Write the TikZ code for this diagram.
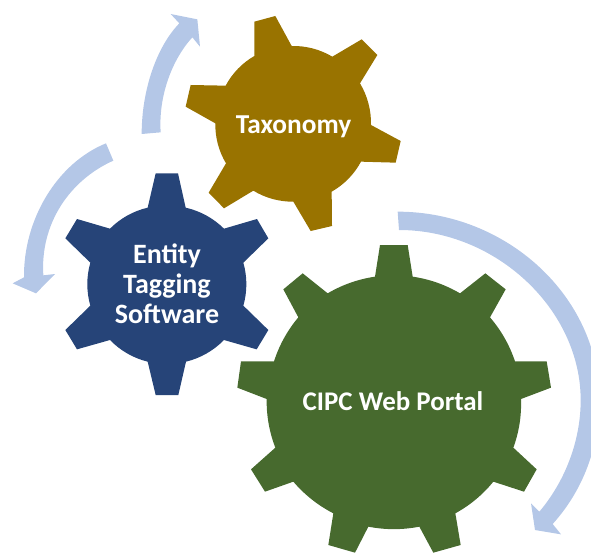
\documentclass[tikz,border=0pt]{standalone}
\usepackage{fontspec}
\setmainfont{Carlito}
\definecolor{goldgear}{HTML}{997300}
\definecolor{bluegear}{HTML}{264478}
\definecolor{greengear}{HTML}{476A2E}
\definecolor{cyclearrow}{HTML}{B4C7E7}
\tikzset{
  zoomed/.style 2 args={shift={(#1,#2)},x=.25pt,y=-.25pt},
  gearlabel/.style={text=white,font=\fontsize{#1}{22.5}\selectfont\bfseries,align=center,inner sep=0pt},
  cycle arrow/.style={fill=cyclearrow,draw=none},
  rim/.style={bend left=#1,looseness=.87}
}
\begin{document}
\begin{tikzpicture}[x=.75pt,y=-.75pt]
\useasboundingbox (0,0) rectangle (591,552);
\clip (0,0) rectangle (591,552);
% Taxonomy gear
\begin{scope}[zoomed={130}{0}]
\fill[goldgear] (373,65)--(436,48)--(485,138) to[rim=16] (607,170)--(695,118)--(742,165)--(690,250)
  to[rim=16] (723,375)--(812,423)--(797,488)--(693,485) to[rim=16] (605,575)--(606,678)--(542,693)--(490,605)
  to[rim=16] (370,572)--(282,625)--(236,578)--(288,490) to[rim=16] (256,370)--(167,320)--(182,255)--(287,257)
  to[rim=16] (373,168)--cycle;
\fill[cycle arrow] (35,402) .. controls (35,270) and (80,140) .. (148,70) -- (122,42) -- (202,58) -- (210,140) -- (187,112)
  .. controls (125,180) and (85,290) .. (92,397) -- cycle;
\end{scope}
% Entity gear
\begin{scope}[zoomed={0}{130}]
\fill[bluegear] (467,130)--(534,130)--(557,233) to[rim=16] (672,296)--(771,267)--(805,325)--(730,398)
  to[rim=16] (730,527)--(805,600)--(770,658)--(672,630) to[rim=16] (558,695)--(535,795)--(467,795)--(443,695)
  to[rim=16] (330,630)--(231,658)--(196,600)--(271,527) to[rim=16] (271,398)--(196,325)--(231,267)--(330,296)
  to[rim=16] (443,233)--cycle;
\fill[cycle arrow] (318,40) -- (340,92) .. controls (210,150) and (120,280) .. (130,436) -- (165,432) -- (108,490) -- (38,460) -- (72,442)
  .. controls (70,270) and (170,100) .. (318,40) -- cycle;
\end{scope}
% CIPC gear
\begin{scope}[zoomed={230}{200}]
\fill[greengear] (450,135)--(533,135)--(548,230) to[rim=11] (690,280)--(766,220)--(827,268)--(780,352)
  to[rim=11] (855,484)--(950,484)--(963,563)--(873,597) to[rim=11] (850,743)--(920,808)--(882,875)--(790,845)
  to[rim=11] (676,940)--(692,1035)--(610,1058)--(568,980) to[rim=11] (415,980)--(375,1058)--(295,1035)--(310,940)
  to[rim=11] (190,845)--(105,875)--(63,808)--(136,743) to[rim=11] (110,597)--(22,563)--(33,484)--(132,484)
  to[rim=11] (205,352)--(160,268)--(218,220)--(293,280) to[rim=11] (435,230)--cycle;
\fill[cycle arrow] (503,35) .. controls (830,35) and (1108,290) .. (1108,600) .. controls (1108,740) and (1060,870) .. (968,972)
  -- (993,1003) -- (915,990) -- (903,910) -- (928,935) .. controls (1000,850) and (1052,730) .. (1052,600)
  .. controls (1052,330) and (800,90) .. (507,90) -- cycle;
\end{scope}
\node[gearlabel=20.5] (taxonomy) at (293.5,127) {Taxonomy};
\node[gearlabel=21] (entity) at (167,283.5) {Entity\\Tagging\\Software};
\node[gearlabel=20.2] (cipc) at (393,401) {CIPC Web Portal};
\end{tikzpicture}
\end{document}
